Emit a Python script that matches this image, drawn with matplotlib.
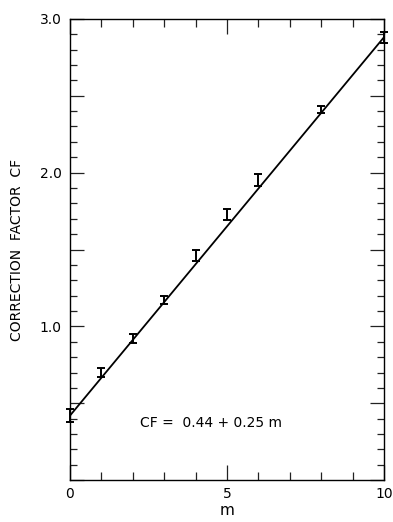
import matplotlib
matplotlib.use('Agg')
import matplotlib.pyplot as plt
from matplotlib.ticker import FixedLocator, MultipleLocator, FuncFormatter

plt.rcParams['font.family'] = ['DejaVu Sans']

# data
m_vals = [0, 1, 2, 3, 4, 5, 6, 8, 10]
cf_vals = [0.42, 0.70, 0.92, 1.17, 1.46, 1.73, 1.95, 2.41, 2.88]
cf_err = [0.04, 0.03, 0.03, 0.025, 0.035, 0.035, 0.04, 0.025, 0.035]
fit_m = [0, 10]
fit_cf = [0.42, 2.88]

fig = plt.figure(figsize=(3.93, 5.22), dpi=100)
ax = fig.add_axes([0.178, 0.080, 0.799, 0.884])

ax.plot(fit_m, fit_cf, color='black', lw=1.3)
eb = ax.errorbar(m_vals, cf_vals, yerr=cf_err, fmt='none', ecolor='black',
                 elinewidth=1.4, capsize=3, capthick=1.4)
for art in eb.lines[1] + eb.lines[2]:
    art.set_clip_on(False)

ax.set_xlim(0, 10)
ax.set_ylim(0, 3.0)

# x ticks
ax.xaxis.set_major_locator(FixedLocator([0, 5, 10]))
ax.xaxis.set_minor_locator(MultipleLocator(1))
# y ticks: majors every 0.5, labels only on integers
ax.yaxis.set_major_locator(MultipleLocator(0.5))
ax.yaxis.set_minor_locator(MultipleLocator(0.1))
ax.yaxis.set_major_formatter(FuncFormatter(
    lambda v, p: f'{v:.1f}' if abs(v - round(v)) < 1e-6 and v > 0 else ''))

ax.tick_params(which='both', direction='in', top=True, right=True,
               labelsize=10, width=0.9, color='#222222')
ax.tick_params(axis='x', which='major', length=11, pad=5)
ax.tick_params(axis='x', which='minor', length=6)
ax.tick_params(axis='y', which='major', length=10, pad=6)
ax.tick_params(axis='y', which='minor', length=5)

for s in ax.spines.values():
    s.set_linewidth(1.0)

ax.set_xlabel('m', fontsize=11, labelpad=1)
ax.set_ylabel('CORRECTION  FACTOR  CF', fontsize=10, labelpad=11)

ax.text(4.5, 0.37, 'CF =  0.44 + 0.25 m', fontsize=10, ha='center', va='center')

fig.savefig('out.png', dpi=100, facecolor='white')
